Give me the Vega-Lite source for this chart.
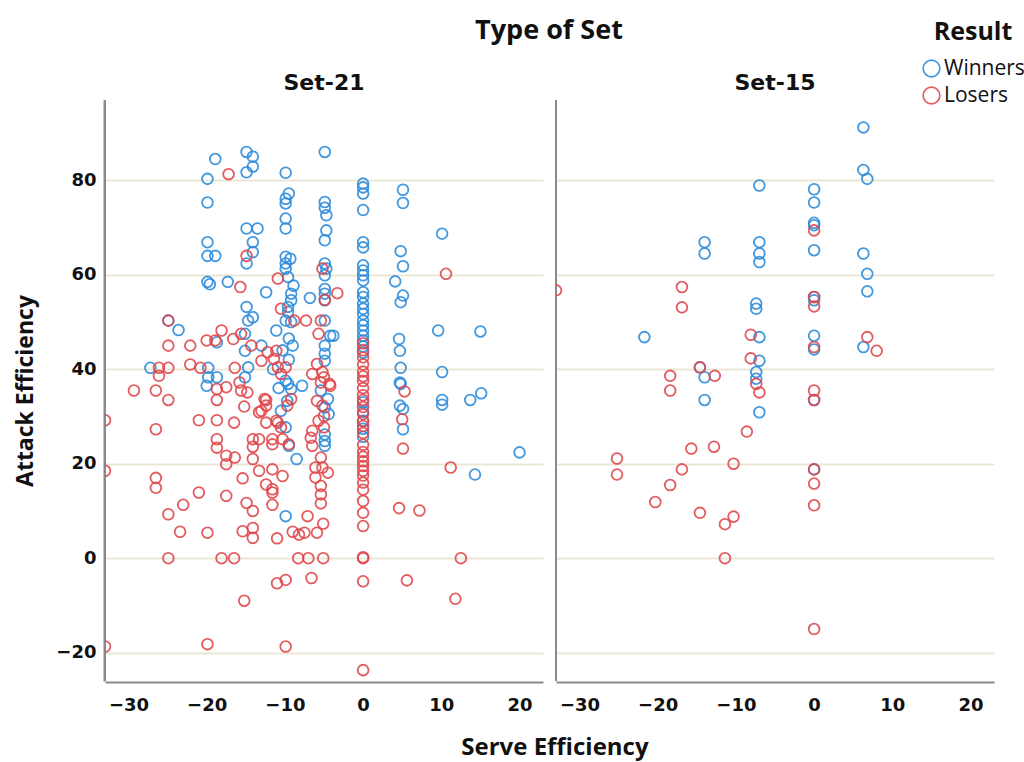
{
 "$schema": "https://vega.github.io/schema/vega-lite/v6.json",
 "padding": {"left": 14, "top": 17, "right": 0, "bottom": 2},
 "title": {"text": "Serve Efficiency", "orient": "bottom", "anchor": "middle", "frame": "bounds", "dx": 35, "offset": 22, "font": "Open Sans", "fontSize": 24, "fontWeight": "bold", "color": "#111"},
 "data": {"values": [
{"s":"Set-21","r":"Winners","x":-18.9,"y":84.5},{"s":"Set-21","r":"Winners","x":-19.9,"y":80.3},{"s":"Set-21","r":"Winners","x":-19.9,"y":75.3},{"s":"Set-21","r":"Winners","x":-19.9,"y":66.9},{"s":"Set-21","r":"Winners","x":-19.9,"y":64.0},{"s":"Set-21","r":"Winners","x":-18.9,"y":64.0},{"s":"Set-21","r":"Winners","x":-19.9,"y":58.5},{"s":"Set-21","r":"Winners","x":-19.6,"y":58.0},{"s":"Set-21","r":"Winners","x":-17.3,"y":58.5},{"s":"Set-21","r":"Winners","x":-23.6,"y":48.3},{"s":"Set-21","r":"Winners","x":-24.9,"y":50.3},{"s":"Set-21","r":"Winners","x":-27.2,"y":40.3},{"s":"Set-21","r":"Winners","x":-19.8,"y":40.3},{"s":"Set-21","r":"Winners","x":-19.8,"y":38.3},{"s":"Set-21","r":"Winners","x":-18.7,"y":38.3},{"s":"Set-21","r":"Winners","x":-20,"y":36.5},{"s":"Set-21","r":"Winners","x":-18.7,"y":45.7},
{"s":"Set-21","r":"Winners","x":-14.9,"y":86.0},{"s":"Set-21","r":"Winners","x":-14.1,"y":85.0},{"s":"Set-21","r":"Winners","x":-14.1,"y":82.9},{"s":"Set-21","r":"Winners","x":-14.9,"y":81.7},{"s":"Set-21","r":"Winners","x":-14.9,"y":69.8},{"s":"Set-21","r":"Winners","x":-13.5,"y":69.8},{"s":"Set-21","r":"Winners","x":-14.1,"y":66.9},{"s":"Set-21","r":"Winners","x":-14.1,"y":64.8},{"s":"Set-21","r":"Winners","x":-14.9,"y":62.4},{"s":"Set-21","r":"Winners","x":-14.9,"y":53.2},{"s":"Set-21","r":"Winners","x":-14.7,"y":50.3},{"s":"Set-21","r":"Winners","x":-15.1,"y":47.5},{"s":"Set-21","r":"Winners","x":-15.1,"y":43.9},{"s":"Set-21","r":"Winners","x":-14.7,"y":40.4},{"s":"Set-21","r":"Winners","x":-15.1,"y":38.3},{"s":"Set-21","r":"Winners","x":-14.1,"y":51.0},{"s":"Set-21","r":"Winners","x":-13,"y":45},
{"s":"Set-21","r":"Winners","x":-12.4,"y":56.3},{"s":"Set-21","r":"Winners","x":-6.8,"y":55.1},{"s":"Set-21","r":"Winners","x":-7.8,"y":36.5},
{"s":"Set-21","r":"Winners","x":-9.9,"y":81.6},{"s":"Set-21","r":"Winners","x":-9.5,"y":77.2},{"s":"Set-21","r":"Winners","x":-9.9,"y":76.1},{"s":"Set-21","r":"Winners","x":-9.9,"y":75.1},{"s":"Set-21","r":"Winners","x":-9.9,"y":71.9},{"s":"Set-21","r":"Winners","x":-9.9,"y":69.8},{"s":"Set-21","r":"Winners","x":-9.9,"y":63.8},{"s":"Set-21","r":"Winners","x":-9.3,"y":63.4},{"s":"Set-21","r":"Winners","x":-9.9,"y":62.4},{"s":"Set-21","r":"Winners","x":-9.9,"y":61.3},{"s":"Set-21","r":"Winners","x":-9.6,"y":59.5},{"s":"Set-21","r":"Winners","x":-8.9,"y":57.7},{"s":"Set-21","r":"Winners","x":-9.2,"y":56.0},{"s":"Set-21","r":"Winners","x":-9.2,"y":54.6},{"s":"Set-21","r":"Winners","x":-9.6,"y":53.2},{"s":"Set-21","r":"Winners","x":-9.6,"y":52.1},{"s":"Set-21","r":"Winners","x":-9.9,"y":50.3},{"s":"Set-21","r":"Winners","x":-9.2,"y":50.0},{"s":"Set-21","r":"Winners","x":-11.1,"y":48.2},{"s":"Set-21","r":"Winners","x":-9.5,"y":46.5},{"s":"Set-21","r":"Winners","x":-9.0,"y":45.0},{"s":"Set-21","r":"Winners","x":-10.3,"y":44.0},{"s":"Set-21","r":"Winners","x":-9.5,"y":42.0},{"s":"Set-21","r":"Winners","x":-9.9,"y":37.6},{"s":"Set-21","r":"Winners","x":-9.6,"y":36.9},{"s":"Set-21","r":"Winners","x":-9.2,"y":35.8},{"s":"Set-21","r":"Winners","x":-9.7,"y":33.3},{"s":"Set-21","r":"Winners","x":-10.5,"y":31.2},{"s":"Set-21","r":"Winners","x":-9.9,"y":27.7},{"s":"Set-21","r":"Winners","x":-9.5,"y":23.8},{"s":"Set-21","r":"Winners","x":-8.5,"y":21.0},{"s":"Set-21","r":"Winners","x":-9.9,"y":8.9},{"s":"Set-21","r":"Winners","x":-11.5,"y":40},{"s":"Set-21","r":"Winners","x":-10.8,"y":36},
{"s":"Set-21","r":"Winners","x":-4.9,"y":86.0},{"s":"Set-21","r":"Winners","x":-4.9,"y":75.4},{"s":"Set-21","r":"Winners","x":-4.9,"y":74.2},{"s":"Set-21","r":"Winners","x":-4.7,"y":72.6},{"s":"Set-21","r":"Winners","x":-4.7,"y":69.4},{"s":"Set-21","r":"Winners","x":-4.9,"y":67.3},{"s":"Set-21","r":"Winners","x":-4.9,"y":62.4},{"s":"Set-21","r":"Winners","x":-4.7,"y":61.3},{"s":"Set-21","r":"Winners","x":-4.9,"y":59.9},{"s":"Set-21","r":"Winners","x":-4.9,"y":57.0},{"s":"Set-21","r":"Winners","x":-4.9,"y":56.0},{"s":"Set-21","r":"Winners","x":-4.9,"y":54.6},{"s":"Set-21","r":"Winners","x":-4.9,"y":50.3},{"s":"Set-21","r":"Winners","x":-4.2,"y":47.1},{"s":"Set-21","r":"Winners","x":-3.8,"y":47.1},{"s":"Set-21","r":"Winners","x":-4.9,"y":45.0},{"s":"Set-21","r":"Winners","x":-4.9,"y":43.3},{"s":"Set-21","r":"Winners","x":-4.9,"y":41.8},{"s":"Set-21","r":"Winners","x":-5.4,"y":35.5},{"s":"Set-21","r":"Winners","x":-4.5,"y":33.7},{"s":"Set-21","r":"Winners","x":-4.9,"y":31.9},{"s":"Set-21","r":"Winners","x":-4.4,"y":30.5},{"s":"Set-21","r":"Winners","x":-4.9,"y":26.2},{"s":"Set-21","r":"Winners","x":-4.9,"y":24.8},{"s":"Set-21","r":"Winners","x":-4.9,"y":23.8},
{"s":"Set-21","r":"Winners","x":0,"y":79.3},{"s":"Set-21","r":"Winners","x":0,"y":78.5},{"s":"Set-21","r":"Winners","x":0,"y":77.2},{"s":"Set-21","r":"Winners","x":0,"y":73.7},{"s":"Set-21","r":"Winners","x":0,"y":66.9},{"s":"Set-21","r":"Winners","x":0,"y":65.8},{"s":"Set-21","r":"Winners","x":0,"y":62.0},{"s":"Set-21","r":"Winners","x":0,"y":60.9},{"s":"Set-21","r":"Winners","x":0,"y":59.9},{"s":"Set-21","r":"Winners","x":0,"y":58.8},{"s":"Set-21","r":"Winners","x":0,"y":56.3},{"s":"Set-21","r":"Winners","x":0,"y":55.3},{"s":"Set-21","r":"Winners","x":0,"y":53.9},{"s":"Set-21","r":"Winners","x":0,"y":52.8},{"s":"Set-21","r":"Winners","x":0,"y":51.7},{"s":"Set-21","r":"Winners","x":0,"y":50.3},{"s":"Set-21","r":"Winners","x":0,"y":49.3},{"s":"Set-21","r":"Winners","x":0,"y":48.2},{"s":"Set-21","r":"Winners","x":0,"y":47.1},{"s":"Set-21","r":"Winners","x":0,"y":46.1},{"s":"Set-21","r":"Winners","x":0,"y":44.8},{"s":"Set-21","r":"Winners","x":0,"y":43.5},{"s":"Set-21","r":"Winners","x":0,"y":33.0},{"s":"Set-21","r":"Winners","x":0,"y":31.0},{"s":"Set-21","r":"Winners","x":0,"y":29.1},{"s":"Set-21","r":"Winners","x":0,"y":27.4},{"s":"Set-21","r":"Winners","x":0,"y":25.7},
{"s":"Set-21","r":"Winners","x":5.1,"y":78},{"s":"Set-21","r":"Winners","x":5.1,"y":75.2},{"s":"Set-21","r":"Winners","x":4.8,"y":65.0},{"s":"Set-21","r":"Winners","x":5.1,"y":61.8},{"s":"Set-21","r":"Winners","x":4.1,"y":58.6},{"s":"Set-21","r":"Winners","x":5.1,"y":55.6},{"s":"Set-21","r":"Winners","x":4.8,"y":54.2},{"s":"Set-21","r":"Winners","x":4.6,"y":46.4},{"s":"Set-21","r":"Winners","x":4.7,"y":43.9},{"s":"Set-21","r":"Winners","x":4.8,"y":40.3},{"s":"Set-21","r":"Winners","x":4.7,"y":37.2},{"s":"Set-21","r":"Winners","x":4.8,"y":36.9},{"s":"Set-21","r":"Winners","x":4.7,"y":32.3},{"s":"Set-21","r":"Winners","x":5.1,"y":31.6},{"s":"Set-21","r":"Winners","x":5.1,"y":27.3},
{"s":"Set-21","r":"Winners","x":10.1,"y":68.7},{"s":"Set-21","r":"Winners","x":9.6,"y":48.2},{"s":"Set-21","r":"Winners","x":15,"y":48},{"s":"Set-21","r":"Winners","x":10.1,"y":39.4},{"s":"Set-21","r":"Winners","x":10.1,"y":33.5},{"s":"Set-21","r":"Winners","x":10.1,"y":32.5},{"s":"Set-21","r":"Winners","x":13.7,"y":33.5},{"s":"Set-21","r":"Winners","x":15.1,"y":34.9},{"s":"Set-21","r":"Winners","x":20,"y":22.4},{"s":"Set-21","r":"Winners","x":14.3,"y":17.7},
{"s":"Set-21","r":"Losers","x":-33,"y":29.2},{"s":"Set-21","r":"Losers","x":-33,"y":18.5},{"s":"Set-21","r":"Losers","x":-33,"y":-18.7},
{"s":"Set-21","r":"Losers","x":-29.3,"y":35.5},{"s":"Set-21","r":"Losers","x":-26.1,"y":40.3},{"s":"Set-21","r":"Losers","x":-24.9,"y":40.3},{"s":"Set-21","r":"Losers","x":-26.1,"y":38.6},{"s":"Set-21","r":"Losers","x":-26.5,"y":35.5},{"s":"Set-21","r":"Losers","x":-24.9,"y":33.5},{"s":"Set-21","r":"Losers","x":-26.5,"y":27.3},{"s":"Set-21","r":"Losers","x":-26.5,"y":17.0},{"s":"Set-21","r":"Losers","x":-26.5,"y":14.9},{"s":"Set-21","r":"Losers","x":-24.9,"y":45.0},{"s":"Set-21","r":"Losers","x":-22.1,"y":45.0},{"s":"Set-21","r":"Losers","x":-22.1,"y":41.0},{"s":"Set-21","r":"Losers","x":-24.9,"y":50.3},{"s":"Set-21","r":"Losers","x":-24.9,"y":9.3},{"s":"Set-21","r":"Losers","x":-23.4,"y":5.6},{"s":"Set-21","r":"Losers","x":-24.9,"y":0},{"s":"Set-21","r":"Losers","x":-23,"y":11.3},
{"s":"Set-21","r":"Losers","x":-20.8,"y":40.3},{"s":"Set-21","r":"Losers","x":-20,"y":46.1},{"s":"Set-21","r":"Losers","x":-18.9,"y":46.1},{"s":"Set-21","r":"Losers","x":-18.1,"y":48.2},{"s":"Set-21","r":"Losers","x":-16.6,"y":46.4},{"s":"Set-21","r":"Losers","x":-15.6,"y":47.5},{"s":"Set-21","r":"Losers","x":-16.4,"y":40.3},{"s":"Set-21","r":"Losers","x":-18.7,"y":35.8},{"s":"Set-21","r":"Losers","x":-18.7,"y":33.5},{"s":"Set-21","r":"Losers","x":-17.5,"y":36.2},{"s":"Set-21","r":"Losers","x":-15.8,"y":37.2},{"s":"Set-21","r":"Losers","x":-15.6,"y":35.5},{"s":"Set-21","r":"Losers","x":-14.8,"y":35.1},{"s":"Set-21","r":"Losers","x":-15.2,"y":32.1},{"s":"Set-21","r":"Losers","x":-21,"y":29.2},{"s":"Set-21","r":"Losers","x":-18.7,"y":29.2},{"s":"Set-21","r":"Losers","x":-16.5,"y":28.7},{"s":"Set-21","r":"Losers","x":-18.7,"y":25.2},{"s":"Set-21","r":"Losers","x":-18.7,"y":23.4},{"s":"Set-21","r":"Losers","x":-17.5,"y":21.7},{"s":"Set-21","r":"Losers","x":-17.5,"y":19.9},{"s":"Set-21","r":"Losers","x":-16.4,"y":21.3},{"s":"Set-21","r":"Losers","x":-14.1,"y":21.0},{"s":"Set-21","r":"Losers","x":-15.4,"y":16.9},{"s":"Set-21","r":"Losers","x":-21,"y":13.9},{"s":"Set-21","r":"Losers","x":-17.5,"y":13.2},{"s":"Set-21","r":"Losers","x":-19.9,"y":5.4},{"s":"Set-21","r":"Losers","x":-18.1,"y":0},{"s":"Set-21","r":"Losers","x":-16.5,"y":0},{"s":"Set-21","r":"Losers","x":-15.4,"y":5.7},{"s":"Set-21","r":"Losers","x":-14.1,"y":6.4},{"s":"Set-21","r":"Losers","x":-14.1,"y":4.3},{"s":"Set-21","r":"Losers","x":-14.9,"y":11.7},{"s":"Set-21","r":"Losers","x":-14.1,"y":10.0},{"s":"Set-21","r":"Losers","x":-15.2,"y":-9.0},{"s":"Set-21","r":"Losers","x":-19.9,"y":-18.2},{"s":"Set-21","r":"Losers","x":-17.2,"y":81.3},{"s":"Set-21","r":"Losers","x":-15.7,"y":57.4},{"s":"Set-21","r":"Losers","x":-14.9,"y":64.0},
{"s":"Set-21","r":"Losers","x":-12.4,"y":33.5},{"s":"Set-21","r":"Losers","x":-12.4,"y":32.3},{"s":"Set-21","r":"Losers","x":-13.3,"y":30.9},{"s":"Set-21","r":"Losers","x":-12.4,"y":28.7},{"s":"Set-21","r":"Losers","x":-10.9,"y":28.7},{"s":"Set-21","r":"Losers","x":-14.1,"y":25.2},{"s":"Set-21","r":"Losers","x":-14.1,"y":23.6},{"s":"Set-21","r":"Losers","x":-13.3,"y":25.2},{"s":"Set-21","r":"Losers","x":-11.6,"y":25.2},{"s":"Set-21","r":"Losers","x":-11.6,"y":24.1},{"s":"Set-21","r":"Losers","x":-10.3,"y":25.2},{"s":"Set-21","r":"Losers","x":-9.5,"y":24.1},
{"s":"Set-21","r":"Losers","x":-13.3,"y":18.5},{"s":"Set-21","r":"Losers","x":-11.6,"y":18.8},{"s":"Set-21","r":"Losers","x":-10.3,"y":17.4},{"s":"Set-21","r":"Losers","x":-12.4,"y":15.6},{"s":"Set-21","r":"Losers","x":-11.6,"y":14.6},{"s":"Set-21","r":"Losers","x":-11.6,"y":13.9},{"s":"Set-21","r":"Losers","x":-11.6,"y":11.3},{"s":"Set-21","r":"Losers","x":-11,"y":4.2},{"s":"Set-21","r":"Losers","x":-9,"y":5.6},{"s":"Set-21","r":"Losers","x":-8.2,"y":5.0},{"s":"Set-21","r":"Losers","x":-7.5,"y":5.4},{"s":"Set-21","r":"Losers","x":-5.9,"y":5.4},{"s":"Set-21","r":"Losers","x":-8.3,"y":0},{"s":"Set-21","r":"Losers","x":-7.0,"y":0},{"s":"Set-21","r":"Losers","x":-5.1,"y":0},{"s":"Set-21","r":"Losers","x":-11,"y":-5.3},{"s":"Set-21","r":"Losers","x":-9.9,"y":-4.6},{"s":"Set-21","r":"Losers","x":-6.6,"y":-4.2},{"s":"Set-21","r":"Losers","x":-9.9,"y":-18.7},{"s":"Set-21","r":"Losers","x":-7.1,"y":8.9},{"s":"Set-21","r":"Losers","x":-5.1,"y":7.3},{"s":"Set-21","r":"Losers","x":-5.4,"y":11.6},
{"s":"Set-21","r":"Losers","x":-10.9,"y":59.2},{"s":"Set-21","r":"Losers","x":-10.5,"y":52.8},{"s":"Set-21","r":"Losers","x":-8.8,"y":50.3},{"s":"Set-21","r":"Losers","x":-7.3,"y":50.3},{"s":"Set-21","r":"Losers","x":-5.4,"y":50.3},{"s":"Set-21","r":"Losers","x":-5.2,"y":61.3},{"s":"Set-21","r":"Losers","x":-3.3,"y":56.1},{"s":"Set-21","r":"Losers","x":-4.9,"y":54.7},
{"s":"Set-21","r":"Losers","x":-11.1,"y":43.9},{"s":"Set-21","r":"Losers","x":-11.4,"y":42.2},{"s":"Set-21","r":"Losers","x":-10.9,"y":40.4},{"s":"Set-21","r":"Losers","x":-9.9,"y":40.4},{"s":"Set-21","r":"Losers","x":-10.5,"y":39},{"s":"Set-21","r":"Losers","x":-12.2,"y":43.6},{"s":"Set-21","r":"Losers","x":-13,"y":41.8},{"s":"Set-21","r":"Losers","x":-14.3,"y":45},{"s":"Set-21","r":"Losers","x":-12.6,"y":33.7},{"s":"Set-21","r":"Losers","x":-13,"y":31.2},{"s":"Set-21","r":"Losers","x":-11.1,"y":29.1},{"s":"Set-21","r":"Losers","x":-10.5,"y":27.7},{"s":"Set-21","r":"Losers","x":-9.2,"y":33.7},{"s":"Set-21","r":"Losers","x":-9.7,"y":32.3},{"s":"Set-21","r":"Losers","x":-6.5,"y":27},{"s":"Set-21","r":"Losers","x":-6.7,"y":25.5},{"s":"Set-21","r":"Losers","x":-6.5,"y":23.8},{"s":"Set-21","r":"Losers","x":-6.5,"y":39},
{"s":"Set-21","r":"Losers","x":-5.7,"y":47.5},{"s":"Set-21","r":"Losers","x":-5.9,"y":41.1},{"s":"Set-21","r":"Losers","x":-5.2,"y":39.4},{"s":"Set-21","r":"Losers","x":-5,"y":38.3},{"s":"Set-21","r":"Losers","x":-5.4,"y":37.2},{"s":"Set-21","r":"Losers","x":-4.3,"y":36.9},{"s":"Set-21","r":"Losers","x":-5.9,"y":33.3},{"s":"Set-21","r":"Losers","x":-5.2,"y":32.3},{"s":"Set-21","r":"Losers","x":-5,"y":30.1},{"s":"Set-21","r":"Losers","x":-5.7,"y":29.1},{"s":"Set-21","r":"Losers","x":-5,"y":27.7},{"s":"Set-21","r":"Losers","x":-5.4,"y":21.3},{"s":"Set-21","r":"Losers","x":-6.1,"y":19.2},{"s":"Set-21","r":"Losers","x":-5.2,"y":19.2},{"s":"Set-21","r":"Losers","x":-4.5,"y":18.1},{"s":"Set-21","r":"Losers","x":-6.1,"y":17.1},{"s":"Set-21","r":"Losers","x":-5.4,"y":15.3},{"s":"Set-21","r":"Losers","x":-5.4,"y":13.5},{"s":"Set-21","r":"Losers","x":-4.2,"y":36.5},
{"s":"Set-21","r":"Losers","x":0,"y":45.5},{"s":"Set-21","r":"Losers","x":0,"y":44},{"s":"Set-21","r":"Losers","x":0,"y":42.5},{"s":"Set-21","r":"Losers","x":0,"y":41},{"s":"Set-21","r":"Losers","x":0,"y":39.5},{"s":"Set-21","r":"Losers","x":0,"y":38.5},{"s":"Set-21","r":"Losers","x":0,"y":37.5},{"s":"Set-21","r":"Losers","x":0,"y":36},{"s":"Set-21","r":"Losers","x":0,"y":34.5},{"s":"Set-21","r":"Losers","x":0,"y":33.5},{"s":"Set-21","r":"Losers","x":0,"y":32},{"s":"Set-21","r":"Losers","x":0,"y":30.5},{"s":"Set-21","r":"Losers","x":0,"y":29},{"s":"Set-21","r":"Losers","x":0,"y":28},{"s":"Set-21","r":"Losers","x":0,"y":26.5},{"s":"Set-21","r":"Losers","x":0,"y":24},{"s":"Set-21","r":"Losers","x":0,"y":22.5},{"s":"Set-21","r":"Losers","x":0,"y":21.5},{"s":"Set-21","r":"Losers","x":0,"y":20.5},{"s":"Set-21","r":"Losers","x":0,"y":19.5},{"s":"Set-21","r":"Losers","x":0,"y":18.5},{"s":"Set-21","r":"Losers","x":0,"y":17.5},{"s":"Set-21","r":"Losers","x":0,"y":16},{"s":"Set-21","r":"Losers","x":0,"y":14.5},{"s":"Set-21","r":"Losers","x":0,"y":12.1},{"s":"Set-21","r":"Losers","x":0,"y":9.6},{"s":"Set-21","r":"Losers","x":0,"y":6.8},{"s":"Set-21","r":"Losers","x":0,"y":0},{"s":"Set-21","r":"Losers","x":0,"y":0.2},{"s":"Set-21","r":"Losers","x":0,"y":-4.9},{"s":"Set-21","r":"Losers","x":0,"y":-23.7},
{"s":"Set-21","r":"Losers","x":5.3,"y":35.3},{"s":"Set-21","r":"Losers","x":5,"y":29.4},{"s":"Set-21","r":"Losers","x":5.1,"y":23.2},{"s":"Set-21","r":"Losers","x":4.6,"y":10.6},{"s":"Set-21","r":"Losers","x":7.2,"y":10.1},{"s":"Set-21","r":"Losers","x":5.6,"y":-4.7},
{"s":"Set-21","r":"Losers","x":10.6,"y":60.2},{"s":"Set-21","r":"Losers","x":11.2,"y":19.2},{"s":"Set-21","r":"Losers","x":12.5,"y":0},{"s":"Set-21","r":"Losers","x":11.8,"y":-8.6},
{"s":"Set-15","r":"Winners","x":6.3,"y":91.2},{"s":"Set-15","r":"Winners","x":6.3,"y":82.2},{"s":"Set-15","r":"Winners","x":6.8,"y":80.3},{"s":"Set-15","r":"Winners","x":-7,"y":78.9},{"s":"Set-15","r":"Winners","x":0,"y":78.1},{"s":"Set-15","r":"Winners","x":0,"y":75.3},{"s":"Set-15","r":"Winners","x":0,"y":71.0},{"s":"Set-15","r":"Winners","x":0,"y":70.5},{"s":"Set-15","r":"Winners","x":-14,"y":66.9},{"s":"Set-15","r":"Winners","x":-14,"y":64.5},{"s":"Set-15","r":"Winners","x":-7,"y":66.9},{"s":"Set-15","r":"Winners","x":-7,"y":64.5},{"s":"Set-15","r":"Winners","x":-7,"y":62.7},{"s":"Set-15","r":"Winners","x":0,"y":65.2},{"s":"Set-15","r":"Winners","x":6.3,"y":64.5},{"s":"Set-15","r":"Winners","x":6.8,"y":60.2},{"s":"Set-15","r":"Winners","x":6.8,"y":56.5},{"s":"Set-15","r":"Winners","x":-7.4,"y":53.9},{"s":"Set-15","r":"Winners","x":-7.4,"y":52.8},{"s":"Set-15","r":"Winners","x":0,"y":55.3},{"s":"Set-15","r":"Winners","x":0,"y":54.6},{"s":"Set-15","r":"Winners","x":-21.7,"y":46.8},{"s":"Set-15","r":"Winners","x":-7,"y":46.8},{"s":"Set-15","r":"Winners","x":0,"y":47.1},{"s":"Set-15","r":"Winners","x":0,"y":44.2},{"s":"Set-15","r":"Winners","x":6.3,"y":44.7},{"s":"Set-15","r":"Winners","x":-7,"y":41.8},{"s":"Set-15","r":"Winners","x":-14.6,"y":40.4},{"s":"Set-15","r":"Winners","x":-14,"y":38.3},{"s":"Set-15","r":"Winners","x":-7.4,"y":39.4},{"s":"Set-15","r":"Winners","x":-7.4,"y":38.0},{"s":"Set-15","r":"Winners","x":-14,"y":33.5},{"s":"Set-15","r":"Winners","x":-7,"y":30.9},{"s":"Set-15","r":"Winners","x":0,"y":33.5},{"s":"Set-15","r":"Winners","x":0,"y":18.8},
{"s":"Set-15","r":"Losers","x":-33,"y":56.7},{"s":"Set-15","r":"Losers","x":0,"y":69.4},{"s":"Set-15","r":"Losers","x":-16.9,"y":57.4},{"s":"Set-15","r":"Losers","x":-16.9,"y":53.1},{"s":"Set-15","r":"Losers","x":0,"y":55.3},{"s":"Set-15","r":"Losers","x":0,"y":53.3},{"s":"Set-15","r":"Losers","x":-8.1,"y":47.3},{"s":"Set-15","r":"Losers","x":0,"y":44.7},{"s":"Set-15","r":"Losers","x":6.8,"y":46.8},{"s":"Set-15","r":"Losers","x":8,"y":43.9},{"s":"Set-15","r":"Losers","x":-8.1,"y":42.3},{"s":"Set-15","r":"Losers","x":-14.6,"y":40.4},{"s":"Set-15","r":"Losers","x":-18.4,"y":38.6},{"s":"Set-15","r":"Losers","x":-18.4,"y":35.5},{"s":"Set-15","r":"Losers","x":-12.7,"y":38.6},{"s":"Set-15","r":"Losers","x":-7.4,"y":36.9},{"s":"Set-15","r":"Losers","x":-7,"y":35.1},{"s":"Set-15","r":"Losers","x":0,"y":35.5},{"s":"Set-15","r":"Losers","x":0,"y":33.5},{"s":"Set-15","r":"Losers","x":-8.6,"y":26.8},{"s":"Set-15","r":"Losers","x":-15.7,"y":23.2},{"s":"Set-15","r":"Losers","x":-12.8,"y":23.6},{"s":"Set-15","r":"Losers","x":-25.2,"y":21.1},{"s":"Set-15","r":"Losers","x":-25.2,"y":17.7},{"s":"Set-15","r":"Losers","x":-10.3,"y":20.0},{"s":"Set-15","r":"Losers","x":-16.9,"y":18.8},{"s":"Set-15","r":"Losers","x":0,"y":18.8},{"s":"Set-15","r":"Losers","x":-18.4,"y":15.5},{"s":"Set-15","r":"Losers","x":-20.3,"y":11.9},{"s":"Set-15","r":"Losers","x":0,"y":15.8},{"s":"Set-15","r":"Losers","x":0,"y":11.2},{"s":"Set-15","r":"Losers","x":-14.6,"y":9.6},{"s":"Set-15","r":"Losers","x":-10.3,"y":8.8},{"s":"Set-15","r":"Losers","x":-11.4,"y":7.2},{"s":"Set-15","r":"Losers","x":-11.4,"y":0},{"s":"Set-15","r":"Losers","x":0,"y":-15.0}
 ]},
 "facet": {
  "column": {
   "field": "s", "type": "nominal", "sort": ["Set-21", "Set-15"], "title": "Type of Set",
   "header": {
    "titleFont": "Open Sans", "titleFontSize": 27, "titleFontWeight": "bold", "titleColor": "#111", "titlePadding": 17,
    "labelFont": "DejaVu Sans", "labelFontSize": 22, "labelFontWeight": "bold", "labelColor": "#111", "labelPadding": 4
   }
  }
 },
 "spacing": 12,
 "spec": {
  "width": 438,
  "height": 581,
  "layer": [
   {
    "transform": [{"aggregate": [{"op": "count", "as": "n"}]}],
    "mark": {"type": "rule", "color": "#8a8a8a", "strokeWidth": 2},
    "encoding": {"x": {"datum": -33, "type": "quantitative"}}
   },
   {
    "mark": {"type": "point", "filled": false, "size": 115, "strokeWidth": 1.8, "opacity": 0.88, "clip": true},
    "encoding": {
     "x": {"field": "x", "type": "quantitative", "title": null,
      "scale": {"domain": [-33, 23], "nice": false, "zero": false},
      "axis": {"values": [-30, -20, -10, 0, 10, 20], "grid": false, "ticks": false, "labelPadding": 14,
       "labelFont": "DejaVu Sans", "labelFontSize": 18, "labelFontWeight": "bold", "labelColor": "#111",
       "domainColor": "#8a8a8a", "domainWidth": 2}},
     "y": {"field": "y", "type": "quantitative", "title": "Attack Efficiency",
      "scale": {"domain": [-26, 97], "nice": false, "zero": false},
      "axis": {"values": [-20, 0, 20, 40, 60, 80], "grid": true, "gridColor": "#ebe7d6", "gridWidth": 2, "ticks": false, "labelPadding": 8, "titlePadding": 18,
       "labelFont": "DejaVu Sans", "labelFontSize": 18, "labelFontWeight": "bold", "labelColor": "#111",
       "titleFont": "Open Sans", "titleFontSize": 23, "titleFontWeight": "bold", "titleColor": "#111",
       "domainColor": "#8a8a8a", "domainWidth": 2}},
     "color": {"field": "r", "type": "nominal", "title": "Result",
      "scale": {"domain": ["Winners", "Losers"], "range": ["#2a8bdc", "#e0464b"]},
      "legend": {"orient": "none", "legendX": 816, "legendY": -80, "symbolSize": 280, "symbolStrokeWidth": 1.6, "symbolType": "circle",
       "titleFont": "Open Sans", "titleFontSize": 25, "titleFontWeight": "bold", "titleColor": "#111", "titlePadding": 13, "titleAnchor": "middle",
       "labelFont": "Open Sans", "labelFontSize": 21, "labelColor": "#111", "labelOffset": 2, "rowPadding": 2}}
    }
   }
  ]
 },
 "config": {"view": {"stroke": null}}
}
